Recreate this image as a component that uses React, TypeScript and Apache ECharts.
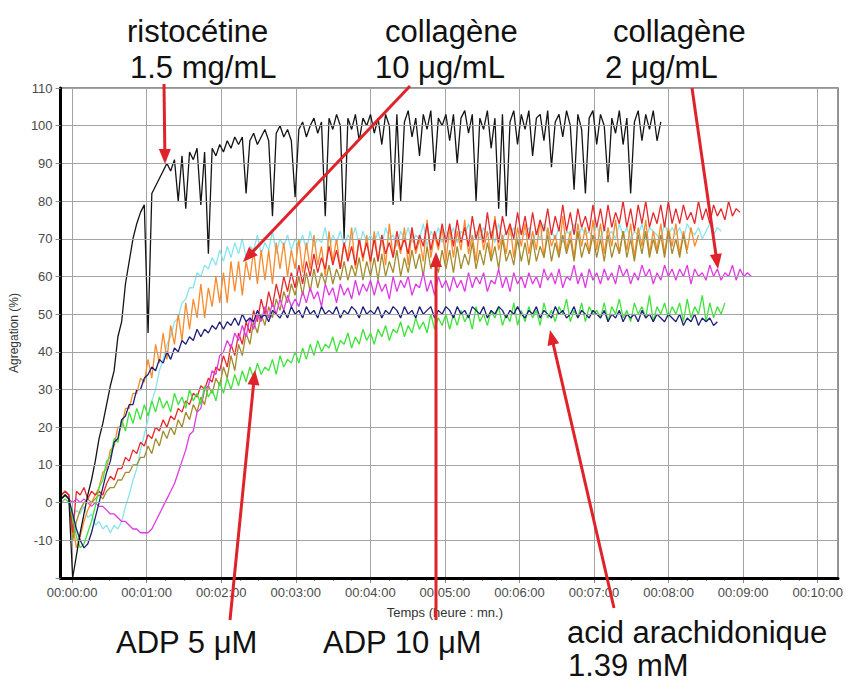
import React, { useEffect, useRef } from "react";
import * as echarts from "echarts";

// Sampling grid of the recorded curves (minutes)
const T_START = -0.15;
const T_STEP = 0.05;

// Axis ranges
const X_MIN = -0.16;
const X_MAX = 10.15;
const Y_MIN = -20;
const Y_MAX = 110;
const X_TICK_MAX = 10;

// Aggregation curves (%), one value every 0.05 min starting at -0.15 min
const RISTOCETINE = [
  1, 2, 1,
  -20, -14, -8, -3, 2, 6, 11, 17, 21, 26, 31, 35, 44, 48, 58, 64, 70, 74, 77, 79,
  45, 82, 84, 86, 88, 90, 88, 91, 80, 92, 78, 93, 91, 94, 79, 93, 66, 94, 92, 95,
  93, 96, 94, 97, 95, 97, 82, 96, 98, 95, 97, 99, 96, 76, 98, 100, 97, 99, 96, 81,
  99, 101, 97, 100, 102, 98, 101, 76, 102, 99, 103, 100, 70, 102, 99, 103, 96, 102, 100, 103,
  98, 102, 95, 103, 100, 79, 103, 80, 101, 104, 97, 102, 92, 103, 99, 104, 88, 102, 100, 103,
  96, 103, 90, 102, 104, 98, 103, 80, 102, 99, 104, 94, 102, 78, 103, 76, 101, 104, 95, 103,
  99, 104, 92, 102, 103, 96, 104, 89, 101, 103, 97, 104, 100, 83, 103, 99, 82, 102, 104, 95,
  103, 100, 85, 102, 98, 104, 95, 102, 82, 101, 104, 96, 103, 99, 104, 96, 101,
];

const COLLAGEN_10_CYAN = [
  1, 2, 1,
  -4, -2, -3, -1, -4, -3, -6, -5, -7, -6, -8, -6, -7, -5, -1, 2, 6, 9, 14, 18,
  22, 27, 30, 35, 38, 42, 44, 48, 49, 53, 54, 57, 57, 61, 60, 63, 62, 65, 63, 67,
  64, 68, 65, 69, 66, 70, 65, 68, 67, 71, 66, 69, 67, 72, 66, 70, 68, 71, 67, 70,
  68, 71, 67, 72, 68, 70, 69, 73, 67, 71, 69, 72, 68, 71, 70, 73, 68, 72, 69, 71,
  69, 72, 68, 73, 70, 71, 68, 72, 70, 73, 69, 71, 70, 74, 68, 72, 70, 73, 69, 72,
  70, 73, 69, 72, 71, 74, 69, 72, 70, 73, 71, 72, 69, 74, 70, 72, 71, 73, 70, 72,
  71, 73, 69, 72, 70, 74, 71, 72, 70, 73, 69, 72, 71, 74, 70, 73, 71, 72, 70, 74,
  70, 73, 71, 72, 70, 74, 71, 73, 70, 72, 71, 74, 70, 73, 72, 71, 70, 74, 71, 73,
  71, 73, 70, 74, 72, 71, 73, 70, 72, 74, 71, 73, 72,
];

const COLLAGEN_ORANGE = [
  2, 3, 2,
  -6, -12, -9, -5, -2, 0, 2, 4, 8, 9, 14, 15, 20, 20, 25, 25, 29, 29, 33, 32,
  38, 33, 42, 37, 45, 38, 47, 42, 50, 43, 53, 46, 54, 49, 58, 49, 57, 52, 60, 53,
  61, 53, 64, 56, 64, 55, 64, 59, 67, 58, 67, 59, 67, 58, 69, 62, 69, 60, 67, 62,
  70, 61, 69, 62, 71, 63, 68, 60, 72, 64, 70, 62, 69, 65, 73, 62, 70, 64, 71, 63,
  72, 64, 71, 63, 74, 65, 70, 66, 73, 63, 72, 66, 70, 64, 75, 65, 71, 67, 73, 64,
  73, 65, 72, 67, 75, 66, 71, 64, 74, 67, 72, 65, 76, 67, 71, 66, 74, 65, 73, 68,
  74, 66, 72, 67, 75, 65, 73, 68, 71, 66, 76, 67, 72, 65, 74, 68, 73, 66, 75, 67,
  74, 66, 73, 68, 75, 66, 72, 67, 74, 65, 73, 68, 75, 66, 72, 67, 74, 66, 73, 68,
  74, 66, 72, 67, 73, 68, 71,
];

const ADP_10_OLIVE = [
  2, 3, 2,
  -10, -5, -2, 0, 1, 0, 1, 2, 1, 3, 4, 4, 6, 6, 8, 8, 10, 10, 12, 12,
  15, 13, 17, 15, 19, 17, 20, 18, 22, 20, 24, 22, 26, 24, 28, 26, 31, 29, 33, 31,
  36, 33, 39, 35, 42, 39, 45, 42, 48, 45, 50, 47, 52, 49, 54, 51, 56, 53, 58, 55,
  60, 55, 61, 56, 62, 57, 61, 58, 63, 58, 62, 59, 64, 59, 63, 60, 65, 59, 64, 60,
  65, 59, 66, 60, 64, 61, 67, 60, 65, 61, 67, 62, 66, 60, 68, 62, 65, 61, 67, 62,
  67, 61, 68, 62, 66, 63, 69, 62, 67, 63, 69, 64, 68, 62, 70, 64, 67, 63, 70, 64,
  69, 63, 70, 64, 68, 65, 71, 64, 69, 65, 71, 66, 70, 64, 72, 65, 69, 66, 71, 65,
  70, 64, 71, 65, 69, 66, 72, 65, 70, 64, 71, 66, 72, 65, 70, 66, 71, 65, 72, 66,
  70, 65, 71, 66,
];

const RED_CURVE = [
  2, 3, 2,
  -8, 3, 2, 4, 1, 3, 2, 3, 2, 5, 7, 6, 9, 9, 12, 11, 14, 13, 16, 15,
  18, 17, 20, 19, 22, 20, 23, 22, 25, 24, 27, 26, 29, 28, 31, 30, 33, 32, 36, 35,
  39, 36, 42, 39, 45, 42, 48, 45, 51, 48, 54, 50, 56, 52, 58, 54, 60, 56, 61, 57,
  63, 58, 64, 60, 66, 61, 65, 62, 68, 63, 67, 62, 69, 64, 68, 63, 70, 65, 69, 64,
  70, 64, 71, 66, 69, 65, 72, 67, 70, 66, 73, 67, 71, 68, 74, 67, 72, 68, 74, 69,
  74, 68, 75, 69, 73, 68, 76, 70, 74, 69, 77, 70, 75, 69, 76, 71, 74, 70, 77, 71,
  76, 70, 77, 71, 75, 72, 78, 71, 76, 72, 79, 72, 77, 71, 78, 73, 76, 72, 79, 73,
  78, 72, 79, 73, 77, 74, 80, 73, 78, 72, 79, 74, 80, 73, 77, 74, 79, 73, 80, 74,
  78, 74, 79, 75, 77, 74, 80, 75, 78, 74, 79, 76, 78, 75, 80, 76, 78, 77,
];

const COLLAGEN_2_MAGENTA = [
  1, 2, 1,
  0, 1, 0, 1, 0, -1, 0, -1, -1, -2, -3, -3, -4, -5, -5, -6, -7, -7, -8, -8,
  -8, -7, -5, -3, -1, 1, 3, 5, 8, 11, 14, 18, 19, 24, 25, 30, 31, 35, 34, 39,
  40, 43, 41, 45, 43, 47, 44, 49, 46, 50, 48, 52, 49, 53, 50, 54, 51, 55, 52, 54,
  52, 56, 53, 57, 54, 56, 52, 58, 55, 57, 53, 58, 55, 57, 54, 59, 55, 58, 56, 59,
  55, 59, 56, 58, 54, 60, 56, 59, 57, 60, 55, 58, 57, 61, 56, 59, 55, 60, 57, 59,
  56, 60, 57, 59, 56, 61, 57, 60, 58, 61, 56, 59, 58, 62, 57, 60, 56, 61, 58, 60,
  57, 61, 58, 60, 57, 62, 59, 61, 58, 62, 57, 60, 59, 63, 58, 61, 57, 62, 59, 61,
  58, 62, 59, 61, 58, 63, 60, 62, 58, 61, 59, 63, 60, 62, 58, 61, 59, 63, 60, 62,
  59, 62, 60, 63, 58, 62, 60, 61, 59, 63, 60, 62, 59, 61, 60, 63, 59, 62, 60, 61,
  60,
];

const AA_NAVY = [
  1, 2, 1,
  -3, -7, -10, -12, -11, -8, -4, 0, 4, 8, 11, 16, 17, 22, 23, 26, 26, 30, 30, 33,
  34, 36, 35, 38, 37, 40, 38, 41, 40, 43, 42, 44, 43, 46, 44, 46, 45, 47, 46, 48,
  46, 48, 47, 49, 47, 50, 48, 49, 48, 51, 49, 50, 48, 51, 50, 49, 51, 49, 52, 50,
  51, 49, 52, 50, 51, 49, 52, 50, 51, 50, 52, 49, 51, 50, 52, 51, 49, 52, 50, 51,
  50, 52, 49, 51, 50, 52, 51, 49, 52, 50, 51, 49, 52, 50, 51, 52, 49, 51, 50, 52,
  51, 49, 52, 50, 51, 49, 52, 51, 50, 52, 49, 51, 50, 52, 51, 49, 51, 50, 52, 50,
  49, 51, 50, 52, 49, 51, 50, 49, 52, 50, 51, 49, 50, 52, 49, 51, 50, 49, 51, 50,
  49, 51, 48, 50, 49, 51, 48, 50, 49, 50, 48, 51, 49, 50, 48, 50, 49, 48, 50, 49,
  48, 50, 47, 49, 48, 50, 47, 49, 48, 49, 47, 48,
];

const ADP_5_GREEN = [
  0, 1, 0,
  -4, -9, -12, -11, -8, -5, -1, 4, 6, 11, 12, 17, 16, 22, 19, 24, 21, 25, 22, 26,
  23, 27, 24, 28, 25, 27, 24, 29, 26, 28, 25, 30, 27, 29, 26, 31, 28, 30, 27, 32,
  29, 33, 30, 34, 31, 35, 32, 36, 33, 37, 34, 36, 35, 38, 34, 39, 36, 38, 37, 40,
  37, 41, 38, 42, 39, 43, 40, 42, 41, 44, 40, 43, 42, 45, 41, 44, 42, 46, 43, 45,
  42, 46, 44, 47, 43, 46, 45, 48, 44, 47, 45, 49, 46, 48, 45, 50, 46, 49, 47, 50,
  46, 50, 47, 51, 48, 50, 46, 52, 48, 50, 47, 51, 49, 52, 47, 50, 48, 53, 47, 51,
  48, 52, 49, 51, 47, 53, 49, 51, 48, 52, 50, 54, 48, 51, 49, 53, 48, 52, 50, 51,
  49, 53, 48, 52, 50, 54, 49, 51, 48, 53, 50, 52, 49, 55, 48, 52, 50, 53, 49, 52,
  50, 53, 48, 54, 49, 52, 50, 55, 48, 53, 49, 52, 50, 53,
];

// Drawing order (bottom to top) and colours
const CURVES = [
  { name: "collagène 10 (cyan)", values: COLLAGEN_10_CYAN, color: "#88e4ee" },
  { name: "collagène (orange)", values: COLLAGEN_ORANGE, color: "#fa8a2a" },
  { name: "ADP 10", values: ADP_10_OLIVE, color: "#a08c2c" },
  { name: "rouge", values: RED_CURVE, color: "#e6282c" },
  { name: "collagène 2", values: COLLAGEN_2_MAGENTA, color: "#e03ae4" },
  { name: "ADP 5", values: ADP_5_GREEN, color: "#3ee43a" },
  { name: "acide arachidonique", values: AA_NAVY, color: "#1e1e78" },
  { name: "ristocétine", values: RISTOCETINE, color: "#141414" },
];

// Annotation texts [text, left x, baseline y]
const LABELS: [string, number, number][] = [
  ["ristocétine", 127, 42],
  ["1.5 mg/mL", 130, 78],
  ["collagène", 385, 42],
  ["10 μg/mL", 375, 78],
  ["collagène", 613, 42],
  ["2 μg/mL", 605, 78],
  ["ADP 5 μM", 116, 653],
  ["ADP 10 μM", 323, 653],
  ["acid arachidonique", 567, 643],
  ["1.39 mM", 568, 676],
];

// Arrows [x1, y1, x2 (tip), y2 (tip)]
const ARROWS: [number, number, number, number][] = [
  [164, 84, 165, 164],
  [410, 86, 243, 262],
  [692, 88, 718, 269],
  [230, 620, 255, 370],
  [436, 620, 436, 252],
  [614, 608, 550, 330],
];

const W = 846;
const H = 684;
const GRID_LEFT = 60;
const GRID_RIGHT = 8;
const GRID_TOP = 88;
const GRID_BOTTOM = 106;

const FONT = '"Liberation Sans", Arial, Helvetica, sans-serif';

function toPairs(values: number[]) {
  return values.map((v, i) => [Number((T_START + i * T_STEP).toFixed(3)), v]);
}

function fmtTime(v: number) {
  const m = Math.round(v);
  const mm = m < 10 ? "0" + m : String(m);
  return "00:" + mm + ":00";
}

function arrowGraphic(a: [number, number, number, number]) {
  const [x1, y1, x2, y2] = a;
  const dx = x2 - x1;
  const dy = y2 - y1;
  const len = Math.sqrt(dx * dx + dy * dy);
  const ux = dx / len;
  const uy = dy / len;
  const headL = 15;
  const headW = 6;
  const bx = x2 - ux * headL;
  const by = y2 - uy * headL;
  const color = "#e0222a";
  return [
    {
      type: "line",
      shape: { x1, y1, x2: bx + ux * 2, y2: by + uy * 2 },
      style: { stroke: color, lineWidth: 3 },
      z: 100,
    },
    {
      type: "polygon",
      shape: {
        points: [
          [x2, y2],
          [bx - uy * headW, by + ux * headW],
          [bx + uy * headW, by - ux * headW],
        ],
      },
      style: { fill: color },
      z: 100,
    },
  ];
}

export default function App() {
  const ref = useRef<HTMLDivElement>(null);

  useEffect(() => {
    if (!ref.current) return;
    const chart = echarts.init(ref.current, null, { renderer: "svg" });

    const plotW = W - GRID_LEFT - GRID_RIGHT;
    const pxPerMin = plotW / (X_MAX - X_MIN);
    const grid2Left = GRID_LEFT + (0 - X_MIN) * pxPerMin;
    const grid2Right = GRID_RIGHT + (X_MAX - X_TICK_MAX) * pxPerMin;

    const gridColor = "#a3a3a3";
    const labelColor = "#4a4a4a";

    const graphics: any[] = [];
    ARROWS.forEach((a) => graphics.push(...arrowGraphic(a)));
    LABELS.forEach(([t, x, base]) => {
      graphics.push({
        type: "text",
        x,
        y: base - 10.7,
        z: 101,
        style: {
          text: t,
          font: `31px ${FONT}`,
          fill: "#111",
          textAlign: "left",
          textVerticalAlign: "middle",
        },
      });
    });

    const option: any = {
      animation: false,
      backgroundColor: "#ffffff",
      textStyle: { fontFamily: FONT },
      grid: [
        {
          left: GRID_LEFT,
          right: GRID_RIGHT,
          top: GRID_TOP,
          bottom: GRID_BOTTOM,
          show: true,
          borderColor: "#707070",
          borderWidth: 1.5,
          backgroundColor: "transparent",
        },
        {
          left: grid2Left,
          right: grid2Right,
          top: GRID_TOP,
          bottom: GRID_BOTTOM,
        },
      ],
      xAxis: [
        {
          type: "value",
          gridIndex: 0,
          min: X_MIN,
          max: X_MAX,
          axisLine: { show: true, onZero: false, lineStyle: { color: "#000", width: 3 } },
          axisTick: { show: false },
          axisLabel: { show: false },
          splitLine: { show: false },
          z: 5,
        },
        {
          type: "value",
          gridIndex: 1,
          min: 0,
          max: X_TICK_MAX,
          interval: 1,
          axisLine: { show: false, onZero: false },
          axisTick: { show: true, length: 5, lineStyle: { color: "#8a8a8a" } },
          minorTick: { show: true, splitNumber: 4, length: 3, lineStyle: { color: "#9a9a9a" } },
          axisLabel: {
            color: labelColor,
            fontSize: 13,
            margin: 8,
            formatter: (v: number) => fmtTime(v),
          },
          splitLine: { show: true, lineStyle: { color: gridColor, width: 1 } },
          name: "Temps (heure : mn.)",
          nameLocation: "middle",
          nameGap: 28,
          nameTextStyle: { color: "#333", fontSize: 13 },
        },
      ],
      yAxis: [
        {
          type: "value",
          gridIndex: 0,
          min: Y_MIN,
          max: Y_MAX,
          interval: 10,
          axisLine: { show: true, onZero: false, lineStyle: { color: "#000", width: 3 } },
          axisTick: { show: true, length: 5, lineStyle: { color: "#8a8a8a" } },
          axisLabel: {
            color: labelColor,
            fontSize: 13,
            margin: 8,
            formatter: (v: number) => (v === Y_MIN ? "" : String(v)),
          },
          splitLine: { show: true, lineStyle: { color: gridColor, width: 1 } },
          name: "Agregation (%)",
          nameLocation: "middle",
          nameGap: 38,
          nameRotate: 90,
          nameTextStyle: { color: "#333", fontSize: 12 },
          z: 5,
        },
        {
          type: "value",
          gridIndex: 1,
          min: Y_MIN,
          max: Y_MAX,
          show: false,
          splitLine: { show: false },
        },
      ],
      series: CURVES.map((c, i) => ({
        type: "line",
        name: c.name,
        xAxisIndex: 0,
        yAxisIndex: 0,
        data: toPairs(c.values),
        showSymbol: false,
        symbol: "none",
        smooth: false,
        clip: true,
        z: 2 + i * 0.01,
        lineStyle: { color: c.color, width: 1.3 },
        itemStyle: { color: c.color },
      })),
      graphic: graphics,
    };

    chart.setOption(option);
    return () => chart.dispose();
  }, []);

  return (
    <div
      ref={ref}
      style={{ position: "fixed", left: 0, top: 0, width: W, height: H, background: "#fff" }}
    />
  );
}
